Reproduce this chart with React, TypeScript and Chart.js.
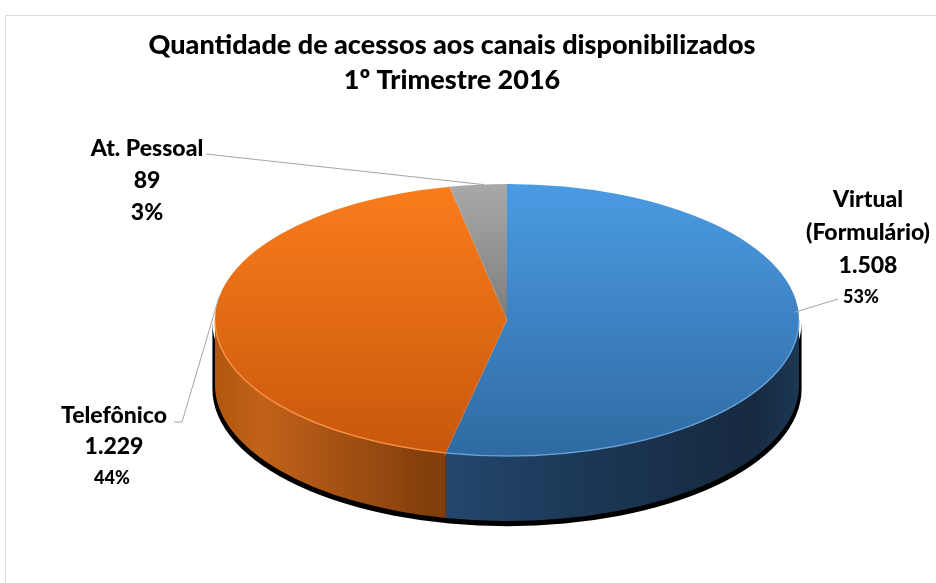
import React, { useEffect, useRef } from 'react';
import { Chart, registerables } from 'chart.js';

Chart.register(...registerables);

const categories = ['Virtual (Formulário)', 'Telefônico', 'At. Pessoal'];
const labelLines = [['Virtual', '(Formulário)'], ['Telefônico'], ['At. Pessoal']];
const values = [1508, 1229, 89];
const percents = ['53%', '44%', '3%'];
const titleLines = ['Quantidade de acessos aos canais disponibilizados', '1º Trimestre 2016'];

const fmt = (v: number) => String(v).replace(/\B(?=(\d{3})+(?!\d))/g, '.');

const W = 936, H = 583;
const CX = 507, CY = 320, RX = 292, RY = 136, DEPTH = 65;
const FONT = 'Lato, "Open Sans", sans-serif';

const topColors = [
  ['#4b9be3', '#2f6aa2'],
  ['#fb7d1c', '#c8570c'],
  ['#a9a9a9', '#7d7d7d'],
];

function sideGradient(ctx: CanvasRenderingContext2D, i: number, cx: number, r: number) {
  const g = ctx.createLinearGradient(cx - r, 0, cx + r, 0);
  if (i === 0) {
    g.addColorStop(0, '#27507a');
    g.addColorStop(0.37, '#24496f');
    g.addColorStop(0.65, '#1b3654');
    g.addColorStop(0.92, '#162a40');
    g.addColorStop(1, '#1d3855');
  } else if (i === 1) {
    g.addColorStop(0, '#b0560f');
    g.addColorStop(0.08, '#c2621a');
    g.addColorStop(0.37, '#823e0b');
    g.addColorStop(1, '#823e0b');
  } else {
    g.addColorStop(0, '#6d6d6d');
    g.addColorStop(1, '#555');
  }
  return g;
}

const pie3d = {
  id: 'pie3d',
  beforeDraw(chart: any) {
    const ctx = chart.ctx as CanvasRenderingContext2D;
    ctx.save();
    ctx.fillStyle = '#ffffff';
    ctx.fillRect(0, 0, W, H);
    ctx.strokeStyle = '#d9d9d9';
    ctx.lineWidth = 1;
    ctx.beginPath();
    ctx.moveTo(5.5, H);
    ctx.lineTo(5.5, 15.5);
    ctx.lineTo(W, 15.5);
    ctx.stroke();
    ctx.restore();
  },
  beforeDatasetsDraw(chart: any) {
    const ctx = chart.ctx as CanvasRenderingContext2D;
    const meta = chart.getDatasetMeta(0);
    const p0 = meta.data[0].getProps(['x', 'y', 'outerRadius'], true);
    const cx = p0.x, cy = p0.y, r = p0.outerRadius;
    const s = RX / r;
    ctx.save();
    ctx.translate(cx, cy);
    ctx.scale(s, 1);
    ctx.translate(-cx, -cy);
    // dark shadow under the base
    ctx.beginPath();
    ctx.arc(cx, cy + DEPTH + 4, r + 1.2, 0, Math.PI);
    ctx.arc(cx, cy + 2, r + 1.2, Math.PI, 0, true);
    ctx.closePath();
    ctx.fillStyle = '#000';
    ctx.fill();
    // side walls
    meta.data.forEach((el: any, i: number) => {
      const { startAngle, endAngle } = el.getProps(['startAngle', 'endAngle'], true);
      const a = Math.max(startAngle, 0);
      const b = Math.min(endAngle, Math.PI);
      if (b <= a) return;
      ctx.beginPath();
      ctx.arc(cx, cy, r, a, b);
      ctx.arc(cx, cy + DEPTH, r, b, a, true);
      ctx.closePath();
      ctx.fillStyle = sideGradient(ctx, i, cx, r);
      ctx.fill();
    });
  },
  afterDatasetsDraw(chart: any) {
    const ctx = chart.ctx as CanvasRenderingContext2D;
    ctx.restore();
    const meta = chart.getDatasetMeta(0);
    const p0 = meta.data[0].getProps(['x', 'y', 'outerRadius'], true);
    const cx = p0.x, cy = p0.y, r = p0.outerRadius;
    // front rim highlight
    const rims = ['rgba(110,170,230,0.8)', 'rgba(255,150,70,0.8)', 'rgba(200,200,200,0.8)'];
    meta.data.forEach((el: any, i: number) => {
      const { startAngle, endAngle } = el.getProps(['startAngle', 'endAngle'], true);
      const a = Math.max(startAngle, 0);
      const b = Math.min(endAngle, Math.PI);
      if (b <= a) return;
      ctx.save();
      ctx.beginPath();
      ctx.ellipse(cx, cy, RX, r, 0, a, b);
      ctx.strokeStyle = rims[i];
      ctx.lineWidth = 1.5;
      ctx.stroke();
      ctx.restore();
    });
  },
  afterDraw(chart: any) {
    const ctx = chart.ctx as CanvasRenderingContext2D;
    const meta = chart.getDatasetMeta(0);
    const p0 = meta.data[0].getProps(['x', 'y', 'outerRadius'], true);
    const cx = p0.x, cy = p0.y, r = p0.outerRadius;
    const anchor = (i: number) => {
      const { startAngle, endAngle } = meta.data[i].getProps(['startAngle', 'endAngle'], true);
      const m = (startAngle + endAngle) / 2;
      return [cx + RX * Math.cos(m), cy + r * Math.sin(m)];
    };
    ctx.save();
    ctx.fillStyle = '#000';
    ctx.textAlign = 'center';
    ctx.textBaseline = 'middle';
    // title
    ctx.font = `900 27px ${FONT}`;
    ctx.fillText(titleLines[0], 452, 45);
    ctx.fillText(titleLines[1], 452, 80);

    // leader lines
    ctx.strokeStyle = '#a6a6a6';
    ctx.lineWidth = 1;
    const aV = anchor(0), aT = anchor(1), aP = anchor(2);
    ctx.beginPath();
    ctx.moveTo(aV[0] - 3, aV[1] - 22);
    ctx.lineTo(838, 299);
    ctx.stroke();
    ctx.beginPath();
    ctx.moveTo(174, 422);
    ctx.lineTo(182, 422);
    ctx.lineTo(aT[0] + 4, aT[1] - 22);
    ctx.stroke();
    ctx.beginPath();
    ctx.moveTo(206, 154);
    ctx.lineTo(aP[0] + 6, aP[1]);
    ctx.stroke();

    // labels
    const big = `900 23px ${FONT}`;
    const small = `900 18px ${FONT}`;
    // Virtual
    ctx.font = big;
    ctx.fillText(labelLines[0][0], 868, 200);
    ctx.fillText(labelLines[0][1], 868, 233);
    ctx.fillText(fmt(values[0]), 868, 266);
    ctx.font = small;
    ctx.fillText(percents[0], 861, 297);
    // Telefônico
    ctx.font = big;
    ctx.fillText(labelLines[1][0], 114, 416);
    ctx.fillText(fmt(values[1]), 114, 447);
    ctx.font = small;
    ctx.fillText(percents[1], 112, 478);
    // At. Pessoal
    ctx.font = big;
    ctx.fillText(labelLines[2][0], 147, 149);
    ctx.fillText(fmt(values[2]), 147, 181);
    ctx.fillText(percents[2], 147, 213);
    ctx.restore();
  },
};

export default function App() {
  const ref = useRef<HTMLCanvasElement | null>(null);
  useEffect(() => {
    document.body.style.margin = '0';
    const canvas = ref.current;
    if (!canvas) return;
    const chart = new Chart(canvas, {
      type: 'pie',
      data: {
        labels: categories,
        datasets: [
          {
            data: values,
            borderWidth: 0,
            clip: false,
            backgroundColor: (c: any) => {
              const ch = c.chart;
              const area = ch.chartArea;
              const i = c.dataIndex ?? 0;
              if (!area) return topColors[i][0];
              const g = ch.ctx.createLinearGradient(0, area.top, 0, area.bottom);
              g.addColorStop(0, topColors[i][0]);
              g.addColorStop(i === 2 ? 0.5 : 1, topColors[i][1]);
              return g;
            },
          } as any,
        ],
      },
      options: {
        animation: false,
        responsive: false,
        devicePixelRatio: 1,
        layout: {
          padding: {
            left: CX - RY,
            right: W - CX - RY,
            top: CY - RY,
            bottom: H - CY - RY,
          },
        },
        plugins: {
          legend: { display: false },
          tooltip: { enabled: false },
          title: { display: false },
        },
        events: [],
      },
      plugins: [pie3d],
    });
    return () => chart.destroy();
  }, []);
  return (
    <div style={{ width: W, height: H }}>
      <canvas ref={ref} width={W} height={H} style={{ display: 'block' }} />
    </div>
  );
}
